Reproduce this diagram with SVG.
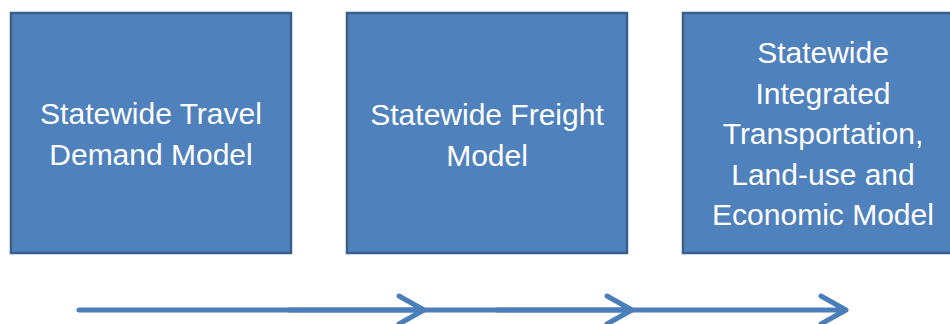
<svg xmlns="http://www.w3.org/2000/svg" width="950" height="324" viewBox="0 0 950 324">
<style>
.box{fill:#4F81BD;stroke:#3A5F8B;stroke-width:2.5}
.t{font-family:"Liberation Sans",Arial,sans-serif;font-size:30px;fill:#FFFFFF;text-anchor:middle}
.ln{fill:none;stroke:#4A7EBB;stroke-width:5;stroke-linecap:round;stroke-linejoin:round}
</style>
<rect width="950" height="324" fill="#FFFFFF"/>
<g id="node-travel">
<rect class="box" x="11" y="13" width="280" height="240"/>
<text class="t" x="151" y="124">Statewide Travel</text>
<text class="t" x="151" y="165">Demand Model</text>
</g>
<g id="node-freight">
<rect class="box" x="347" y="13" width="280" height="240"/>
<text class="t" x="487" y="125">Statewide Freight</text>
<text class="t" x="487" y="166">Model</text>
</g>
<g id="node-integrated">
<rect class="box" x="683" y="13" width="280" height="240"/>
<text class="t" x="823" y="63">Statewide</text>
<text class="t" x="823" y="104">Integrated</text>
<text class="t" x="823" y="144">Transportation,</text>
<text class="t" x="823" y="185">Land-use and</text>
<text class="t" x="823" y="225">Economic Model</text>
</g>
<g id="connectors">
<path class="ln" d="M79 310 H424 M399 296 L424 310 L399 324"/>
<path class="ln" d="M289 310 H632 M607 296 L632 310 L607 324"/>
<path class="ln" d="M497 310 H846 M821 296 L846 310 L821 324"/>
</g>
</svg>
